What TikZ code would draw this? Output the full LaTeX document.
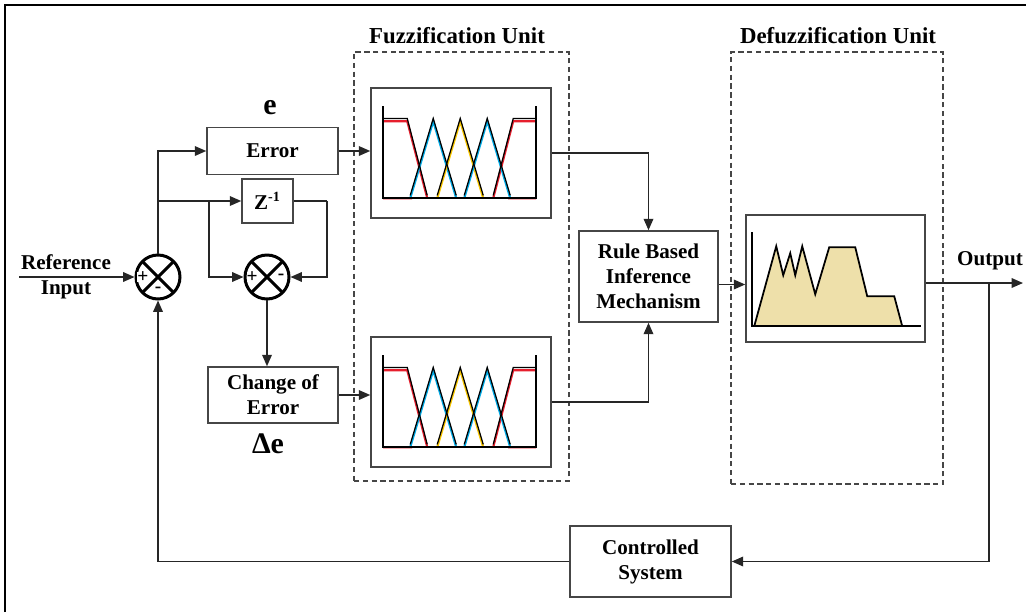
\documentclass[tikz,border=0pt]{standalone}
\usepackage{fontspec}
\setmainfont{Liberation Serif}
\definecolor{mfred}{RGB}{230,30,45}
\definecolor{mfblue}{RGB}{0,170,230}
\definecolor{mfyellow}{RGB}{250,200,0}
\definecolor{tanfill}{RGB}{238,224,170}
\definecolor{edgegray}{RGB}{70,70,70}
\usetikzlibrary{calc, positioning, arrows.meta}

% membership functions of one fuzzification panel (panel-local pixels)
\newcommand{\mfsets}{%
  \draw[mfline, line width=1.2pt, mfred] (13,111) -- (42,111) (13,34) -- (37,34) -- (57,111);
  \draw[mfline, line width=1.2pt, mfred] (138,111) -- (166,111) (123,111) -- (143,34) -- (166,34);
  \foreach \p/\c in {63/mfblue, 90/mfyellow, 117/mfblue}
    \draw[mfline, line width=1.2pt, \c] ({\p-23},111) -- (\p,34) -- ({\p+23},111);
  \begin{scope}[yshift=1.6pt]
    \draw[mfline] (13,34) -- (37,34) -- (57,111);
    \draw[mfline] (123,111) -- (143,34) -- (166,34);
    \foreach \p in {63,90,117}
      \draw[mfline] ({\p-23},111) -- (\p,34) -- ({\p+23},111);
  \end{scope}
  \draw[line width=1pt] (13,19) -- (13,111) -- (166,111) -- (166,19);
}

\begin{document}
\begin{tikzpicture}[
  x=0.02cm, y=-0.02cm,
  block/.style={draw=edgegray, line width=0.9pt, fill=white, align=center,
    font=\fontsize{12}{14.2}\selectfont\bfseries, inner sep=2pt},
  panel/.style={draw=edgegray, line width=0.9pt, fill=white, inner sep=0pt,
    minimum width=3.6cm, minimum height=2.6cm},
  unitbox/.style={draw=edgegray, line width=0.8pt, dash pattern=on 3pt off 2pt,
    inner sep=0pt},
  sumnode/.style={circle, draw, line width=1.7pt, minimum size=0.88cm, inner sep=0pt,
    path picture={\draw[line width=1.7pt]
      (path picture bounding box.north west) -- (path picture bounding box.south east)
      (path picture bounding box.north east) -- (path picture bounding box.south west);}},
  sign/.style={font=\fontsize{11}{11}\selectfont\bfseries, inner sep=0pt, fill=white},
  lbl/.style={font=\fontsize{12}{14.2}\selectfont\bfseries, align=center},
  title/.style={font=\fontsize{13}{14}\selectfont\bfseries},
  mfline/.style={line width=0.7pt, line join=miter},
  conn/.style={line width=0.8pt, draw=black!85, -{Triangle[length=6.5pt, width=5.5pt]}},
  wire/.style={line width=0.8pt, draw=black!85},
]
  \useasboundingbox (0,0) rectangle (1026,612);
  \draw[line width=1.7pt] (5,612) -- (5,5) -- (1030,5);

  % dashed units and their titles
  \node[unitbox, minimum width=4.3cm, minimum height=8.58cm] (fzunit) at (461.5,266.5) {};
  \node[unitbox, minimum width=4.24cm, minimum height=8.64cm] (dfzunit) at (837,268) {};
  \node[title] (fztitle) at (457,36) {Fuzzification Unit};
  \node[title] (dfztitle) at (838,36) {Defuzzification Unit};

  % summing points
  \node[sumnode] (s1) at (158,277) {};
  \node[sumnode] (s2) at (267,277) {};
  \node[sign] (s1p) at ([xshift=-0.3cm]s1.center) {+};
  \node[sign] (s1m) at ([yshift=-0.26cm]s1.center) {-};
  \node[sign] (s2p) at ([xshift=-0.3cm]s2.center) {+};
  \node[sign] (s2m) at ([xshift=0.28cm]s2.center) {-};

  % blocks
  \node[block, minimum width=2.62cm, minimum height=0.94cm] (err) at (272.5,151) {Error};
  \node[font=\fontsize{17}{18}\selectfont\bfseries] (elbl) at (270,108) {e};
  \node[block, minimum width=1.02cm, minimum height=0.88cm] (zinv) at (267.5,201)
    {Z\textsuperscript{-1}};
  \node[block, minimum width=2.6cm, minimum height=1.12cm] (chg) at (273,395) {Change of\\Error};
  \node[font=\fontsize{17}{18}\selectfont\bfseries] (delbl) at (268,444) {Δe};
  \node[block, minimum width=2.78cm, minimum height=1.82cm] (rule) at (648.5,276.5)
    {Rule Based\\Inference\\Mechanism};
  \node[block, minimum width=3.22cm, minimum height=1.42cm] (plant) at (650.5,561.5)
    {Controlled\\System};
  \node[lbl] (reflbl) at (66,277) {Reference\\Input};
  \node[lbl] (outlbl) at (990,261) {Output};

  % fuzzification panels
  \node[panel] (fz1) at (461,153) {};
  \node[panel] (fz2) at (461,402) {};
  \begin{scope}[shift={(fz1.north west)}]
    \mfsets
  \end{scope}
  \begin{scope}[shift={(fz2.north west)}]
    \mfsets
  \end{scope}

  % defuzzification panel
  \node[panel, minimum width=3.58cm, minimum height=2.54cm] (dfz) at (835.5,278.5) {};
  \begin{scope}[shift={(dfz.north west)}]
    \filldraw[fill=tanfill, draw=black, line width=1pt, line join=miter]
      (9,112) -- (31,32) -- (38,61) -- (45,39) -- (50,61) -- (57,32) -- (70,80)
      -- (84,33) -- (110,33) -- (122,82) -- (149,82) -- (157,112);
    \draw[line width=1pt] (7,18) -- (7,112) -- (176,112);
  \end{scope}

  % connectors
  \coordinate (refin) at (19,277);
  \coordinate (b1) at (158,201);
  \coordinate (b2) at (209,201);
  \coordinate (zret) at (327,201);
  \coordinate (b3) at (989,283);
  \coordinate (outend) at (1023,283);

  \draw[conn] (refin) -- (s1.west);
  \draw[conn] (s1.north) |- (err.west);
  \draw[conn] (b1) -- (zinv.west);
  \draw[conn] (b2) |- (s2.west);
  \draw[wire] (zinv.east) -- (zret);
  \draw[conn] (zret) |- (s2.east);
  \draw[conn] (s2.south) -- (s2.south |- chg.north);
  \draw[conn] (err.east) -- (err.east -| fz1.west);
  \draw[conn] (chg.east) -- (chg.east -| fz2.west);
  \draw[conn] (fz1.east) -| (rule.north);
  \draw[conn] (fz2.east) -| (rule.south);
  \draw[conn] ([yshift=-0.16cm]rule.east) -- ([yshift=-0.16cm]rule.east -| dfz.west);
  \draw[conn] (dfz.east |- outend) -- (outend);
  \draw[conn] (b3) |- (plant.east);
  \draw[conn] (plant.west) -| (s1.south);
\end{tikzpicture}
\end{document}
